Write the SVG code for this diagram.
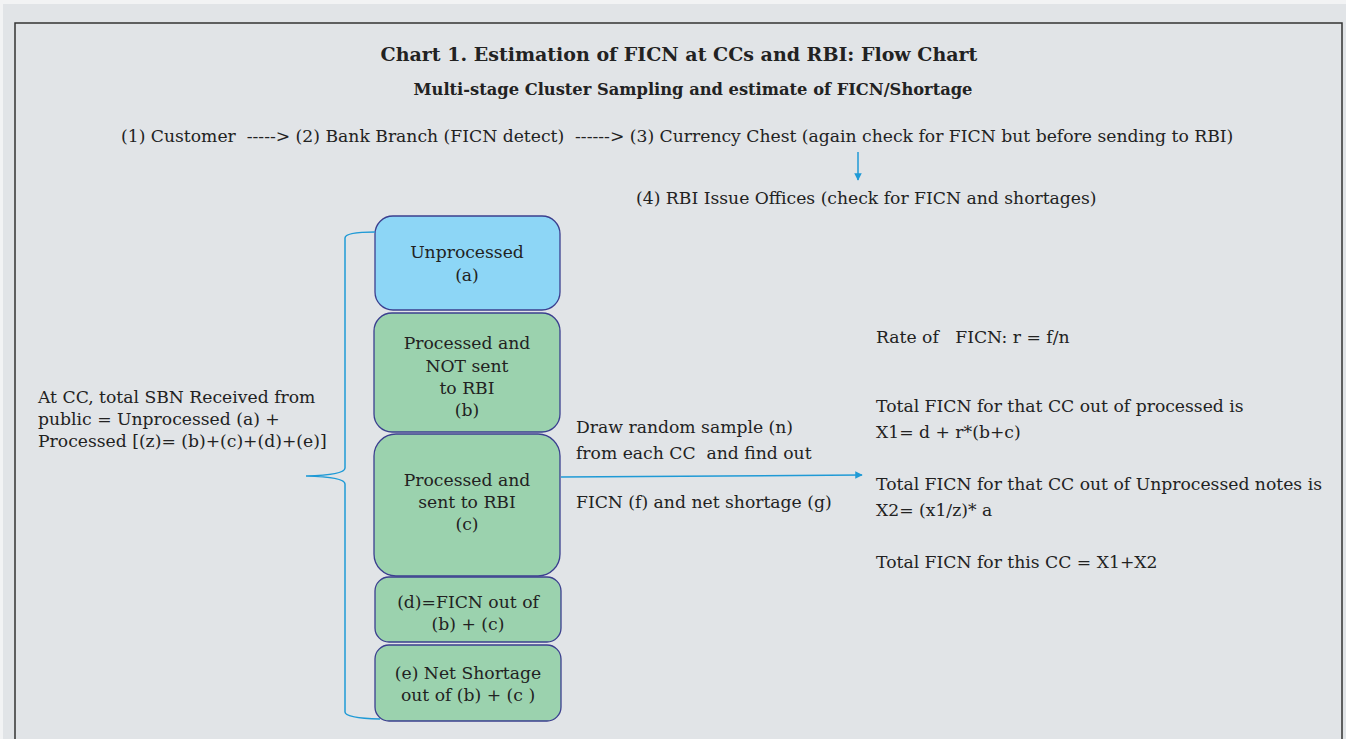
<svg xmlns="http://www.w3.org/2000/svg" width="1346" height="739" viewBox="0 0 1346 739">
<style>
text{font-family:"DejaVu Serif","Liberation Serif",serif;fill:#222;font-size:17.2px}
.c{text-anchor:middle}
.t{font-weight:bold;font-size:19px}
.s{font-weight:bold;font-size:16.3px}
.box{stroke:#3b3f8f;stroke-width:1.3}
.a{fill:#8dd6f6}
.g{fill:#9bd2ae}
.ln{fill:none;stroke:#1f9ad6;stroke-width:1.5}
</style>
<defs>
<marker id="ah" viewBox="0 0 10 10" refX="9" refY="5" markerWidth="5" markerHeight="5" orient="auto">
<path d="M0,0 L10,5 L0,10 z" fill="#1f9ad6"/>
</marker>
</defs>
<rect x="0" y="0" width="1346" height="739" fill="#f2f3f4"/>
<rect x="3" y="4" width="1343" height="735" fill="#e1e4e7"/>
<rect x="15" y="23" width="1327" height="730" fill="none" stroke="#333" stroke-width="1.5"/>

<g id="titles">
<text class="c t" x="679" y="61">Chart 1. Estimation of FICN at CCs and RBI: Flow Chart</text>
<text class="c s" x="693" y="95">Multi-stage Cluster Sampling and estimate of FICN/Shortage</text>
</g>
<g id="flow-line">
<text x="121" y="142" xml:space="preserve">(1) Customer  -----&gt; (2) Bank Branch (FICN detect)  ------&gt; (3) Currency Chest (again check for FICN but before sending to RBI)</text>
</g>
<g id="rbi">
<text x="636" y="204">(4) RBI Issue Offices (check for FICN and shortages)</text>
</g>

<g id="node-a">
<rect class="box a" x="375" y="216" width="185" height="94" rx="18"/>
<text class="c" x="467" y="258">Unprocessed</text>
<text class="c" x="467" y="281">(a)</text>
</g>
<g id="node-b">
<rect class="box g" x="374" y="313" width="186" height="119" rx="18"/>
<text class="c" x="467" y="349">Processed and</text>
<text class="c" x="467" y="372">NOT sent</text>
<text class="c" x="467" y="394">to RBI</text>
<text class="c" x="467" y="416">(b)</text>
</g>
<g id="node-c">
<rect class="box g" x="374" y="434" width="186" height="142" rx="22"/>
<text class="c" x="467" y="486">Processed and</text>
<text class="c" x="467" y="508">sent to RBI</text>
<text class="c" x="467" y="530">(c)</text>
</g>
<g id="node-d">
<rect class="box g" x="375" y="577" width="186" height="65" rx="14"/>
<text class="c" x="468" y="608">(d)=FICN out of</text>
<text class="c" x="468" y="630">(b) + (c)</text>
</g>
<g id="node-e">
<rect class="box g" x="375" y="645" width="186" height="76" rx="14"/>
<text class="c" x="468" y="679">(e) Net Shortage</text>
<text class="c" x="468" y="701">out of (b) + (c )</text>
</g>

<g id="left-text">
<text x="38" y="403">At CC, total SBN Received from</text>
<text x="38" y="425">public = Unprocessed (a) +</text>
<text x="38" y="447">Processed [(z)= (b)+(c)+(d)+(e)]</text>
</g>
<g id="sample-text">
<text x="576" y="433">Draw random sample (n)</text>
<text x="576" y="459" xml:space="preserve">from each CC  and find out</text>
<text x="576" y="508">FICN (f) and net shortage (g)</text>
</g>
<g id="right-text">
<text x="876" y="343" xml:space="preserve">Rate of   FICN: r = f/n</text>
<text x="876" y="412">Total FICN for that CC out of processed is</text>
<text x="876" y="438">X1= d + r*(b+c)</text>
<text x="876" y="490">Total FICN for that CC out of Unprocessed notes is</text>
<text x="876" y="516">X2= (x1/z)* a</text>
<text x="876" y="568">Total FICN for this CC = X1+X2</text>
</g>

<g id="connectors">
<path class="ln" d="M858,152 L858,180" marker-end="url(#ah)"/>
<path class="ln" d="M561,477 L862,475" marker-end="url(#ah)"/>
<path class="ln" d="M375,232 Q345,232 345,238 L345,468 Q345,475 306,476 Q345,477 345,484 L345,712 Q345,718 380,719"/>
</g>
</svg>
